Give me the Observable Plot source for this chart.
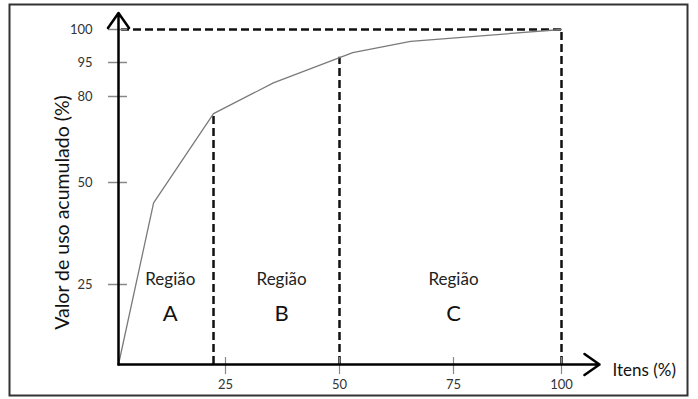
<!DOCTYPE html>
<html>
<head>
<meta charset="utf-8">
<script src="https://cdn.jsdelivr.net/npm/d3@7"></script>
<script src="https://cdn.jsdelivr.net/npm/@observablehq/plot@0.6"></script>
<style>
  html, body { margin: 0; padding: 0; background: #fff; }
  #chart svg { display: block; font-family: Lato, "Open Sans", sans-serif; }
</style>
</head>
<body>
<div id="chart"></div>
<script>
// Chart data
const curveItems = [0, 8.2, 22.2, 35.5, 52.9, 65.6, 100];      // Itens (%)
const curveValues = [0, 45, 74, 86, 96.5, 98.2, 100];          // Valor de uso acumulado (%)
const dividerItems = [22.2, 50, 100];
const dividerValues = [74, 95.8, 100];
const xTicks = [25, 50, 75, 100];
const yTicks = [25, 50, 80, 95, 100];
const regionNames = ["A", "B", "C"];
const regionItems = [12.1, 37.3, 75];
const regionWord = "Região";
const yAxisLabel = "Valor de uso acumulado (%)";
const xAxisLabel = "Itens (%)";
const xAxisEnd = 108.8;
const yAxisEnd = 102.5;

const curve = curveItems.map((x, i) => ({x, y: curveValues[i]}));
const dividers = dividerItems.map((x, i) => ({x, y: dividerValues[i]}));
const regions = regionNames.map((n, i) => ({name: n, x: regionItems[i]}));

const chart = Plot.plot({
  width: 698,
  height: 399,
  marginLeft: 118,
  marginRight: 137,
  marginTop: 29,
  marginBottom: 35,
  style: {fontFamily: "Lato, 'Open Sans', sans-serif", background: "#fff"},
  x: {type: "linear", domain: [0, 25, 50, 75, 100], range: [118, 225, 339, 453, 561]},
  y: {type: "linear", domain: [0, 25, 50, 80, 95, 100], range: [364, 284, 182, 96, 62, 29]},
  marks: [
    Plot.frame({stroke: "#333", strokeWidth: 2, insetLeft: -109, insetTop: -25, insetRight: -126, insetBottom: -31}),
    // dashed guides
    Plot.ruleY([100], {x1: 100, x2: 0, stroke: "#111", strokeWidth: 2.5, strokeDasharray: "8,4"}),
    Plot.ruleX(dividers, {x: "x", y1: 0, y2: "y", stroke: "#111", strokeWidth: 2.5, strokeDasharray: "8,4"}),
    // curve
    Plot.line(curve, {x: "x", y: "y", stroke: "#7a7a7a", strokeWidth: 1.3}),
    // axes ticks and labels
    Plot.axisY(yTicks, {tickSize: 19, dx: 9, tickPadding: 16, stroke: "#888", fill: "#333", strokeWidth: 1.5, fontSize: 13, label: null}),
    Plot.axisX(xTicks, {tickSize: 17, dy: -7, tickPadding: 5, stroke: "#888", fill: "#333", strokeWidth: 1.2, fontSize: 13, label: null}),
    // axis lines with arrows
    Plot.arrow([{x1: 0, y1: 0, x2: 0, y2: yAxisEnd}], {x1: "x1", y1: "y1", x2: "x2", y2: "y2", stroke: "#000", strokeWidth: 2.5, headLength: 11, headAngle: 70}),
    Plot.arrow([{x1: 0, y1: 0, x2: xAxisEnd, y2: 0}], {x1: "x1", y1: "y1", x2: "x2", y2: "y2", stroke: "#000", strokeWidth: 2.5, headLength: 11, headAngle: 70}),
    // region labels
    Plot.text(regions, {x: "x", y: 26.2, text: () => regionWord, fontSize: 17, fill: "#222"}),
    Plot.text(regions, {x: "x", y: 15.9, text: "name", fontSize: 22, fill: "#111"}),
    // axis titles
    Plot.text([yAxisLabel], {frameAnchor: "left", textAnchor: "middle", lineAnchor: "middle", dx: -56, dy: 15.5, rotate: -90, fontSize: 19.5, fill: "#111"}),
    Plot.text([xAxisLabel], {frameAnchor: "bottom-right", dx: 51, dy: 6, textAnchor: "start", lineAnchor: "middle", fontSize: 17, fill: "#111"})
  ]
});
document.getElementById("chart").append(chart);
</script>
</body>
</html>
